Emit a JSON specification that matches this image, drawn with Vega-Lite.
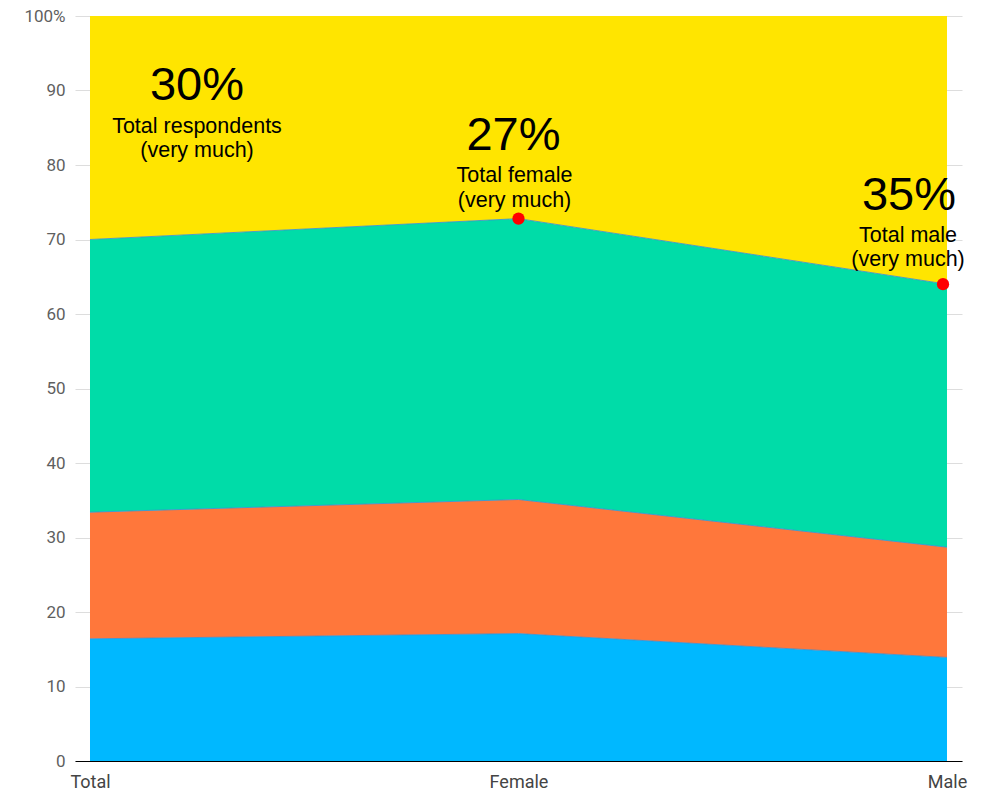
{
  "$schema": "https://vega.github.io/schema/vega-lite/v6.json",
  "width": 887,
  "height": 745,
  "autosize": {"type": "none"},
  "padding": {"left": 75, "top": 16, "right": 22, "bottom": 33},
  "background": "white",
  "config": {"view": {"stroke": null}},
  "data": {
    "values": [
      {"cat": "Total", "series": "Not at all", "rank": 1, "value": 16.4},
      {"cat": "Total", "series": "A little", "rank": 2, "value": 17.0},
      {"cat": "Total", "series": "Quite a lot", "rank": 3, "value": 36.6},
      {"cat": "Total", "series": "Very much", "rank": 4, "value": 30.0},
      {"cat": "Female", "series": "Not at all", "rank": 1, "value": 17.1},
      {"cat": "Female", "series": "A little", "rank": 2, "value": 18.0},
      {"cat": "Female", "series": "Quite a lot", "rank": 3, "value": 37.7},
      {"cat": "Female", "series": "Very much", "rank": 4, "value": 27.2},
      {"cat": "Male", "series": "Not at all", "rank": 1, "value": 13.9},
      {"cat": "Male", "series": "A little", "rank": 2, "value": 14.8},
      {"cat": "Male", "series": "Quite a lot", "rank": 3, "value": 35.3},
      {"cat": "Male", "series": "Very much", "rank": 4, "value": 36.0}
    ]
  },
  "encoding": {
    "x": {
      "field": "cat",
      "type": "ordinal",
      "sort": ["Total", "Female", "Male"],
      "scale": {"type": "point", "padding": 0.035},
      "axis": {
        "title": null,
        "labelAngle": 0,
        "ticks": false,
        "tickSize": 0,
        "grid": false,
        "domainColor": "#000000",
        "domainWidth": 1.2,
        "labelPadding": 12,
        "labelFont": "Roboto",
        "labelFontSize": 18,
        "labelColor": "#444444",
        "zindex": 1
      }
    }
  },
  "layer": [
    {
      "mark": {"type": "area", "opacity": 1},
      "encoding": {
        "y": {
          "field": "value",
          "type": "quantitative",
          "stack": "zero",
          "scale": {"domain": [0, 100], "nice": false},
          "axis": {
            "title": null,
            "values": [0, 10, 20, 30, 40, 50, 60, 70, 80, 90, 100],
            "labelExpr": "datum.value == 100 ? '100%' : datum.label",
            "domain": false,
            "ticks": false,
            "tickSize": 0,
            "labelPadding": 10,
            "labelFont": "Roboto",
            "labelFontSize": 17,
            "labelColor": "#5f5f5f",
            "gridColor": "#dddddd",
            "gridWidth": 1
          }
        },
        "color": {
          "field": "series",
          "type": "nominal",
          "scale": {
            "domain": ["Not at all", "A little", "Quite a lot", "Very much"],
            "range": ["#00B8FF", "#FF773B", "#00DCA8", "#FFE500"]
          },
          "legend": null
        },
        "order": {"field": "rank", "type": "quantitative"}
      }
    },
    {
      "transform": [
        {"window": [{"op": "sum", "field": "value", "as": "cum"}], "sort": [{"field": "rank"}], "groupby": ["cat"], "frame": [null, 0]},
        {"filter": "datum.rank <= 3"}
      ],
      "mark": {"type": "line", "color": "#3b8fcf", "strokeWidth": 1, "opacity": 0.85},
      "encoding": {
        "y": {"field": "cum", "type": "quantitative"},
        "detail": {"field": "series", "type": "nominal"}
      }
    },
    {
      "transform": [
        {"window": [{"op": "sum", "field": "value", "as": "cum"}], "sort": [{"field": "rank"}], "groupby": ["cat"], "frame": [null, 0]},
        {"filter": "datum.rank == 3 && datum.cat == 'Female'"}
      ],
      "mark": {"type": "point", "filled": true, "size": 150, "color": "#ff0000", "opacity": 1},
      "encoding": {
        "y": {"field": "cum", "type": "quantitative"}
      }
    },
    {
      "transform": [
        {"window": [{"op": "sum", "field": "value", "as": "cum"}], "sort": [{"field": "rank"}], "groupby": ["cat"], "frame": [null, 0]},
        {"filter": "datum.rank == 3 && datum.cat == 'Male'"}
      ],
      "mark": {"type": "point", "filled": true, "size": 150, "color": "#ff0000", "opacity": 1, "xOffset": -4},
      "encoding": {
        "y": {"field": "cum", "type": "quantitative"}
      }
    },
    {
      "data": {"values": [{"cat": "Total", "big": "30%", "sub": ["Total respondents", "(very much)"]}]},
      "layer": [
        {
          "mark": {"type": "text", "font": "Liberation Sans", "fontSize": 47, "color": "#000000", "align": "center", "baseline": "alphabetic", "dx": 107, "dy": 84},
          "encoding": {"y": {"datum": 100, "type": "quantitative"}, "text": {"field": "big"}}
        },
        {
          "mark": {"type": "text", "font": "Liberation Sans", "fontSize": 21.5, "color": "#000000", "align": "center", "baseline": "alphabetic", "lineHeight": 24, "dx": 107, "dy": 117},
          "encoding": {"y": {"datum": 100, "type": "quantitative"}, "text": {"field": "sub"}}
        }
      ]
    },
    {
      "data": {"values": [{"cat": "Female", "big": "27%", "sub": ["Total female", "(very much)"]}]},
      "layer": [
        {
          "mark": {"type": "text", "font": "Liberation Sans", "fontSize": 47, "color": "#000000", "align": "center", "baseline": "alphabetic", "dx": -5, "dy": 134},
          "encoding": {"y": {"datum": 100, "type": "quantitative"}, "text": {"field": "big"}}
        },
        {
          "mark": {"type": "text", "font": "Liberation Sans", "fontSize": 21.5, "color": "#000000", "align": "center", "baseline": "alphabetic", "lineHeight": 25, "dx": -4, "dy": 166},
          "encoding": {"y": {"datum": 100, "type": "quantitative"}, "text": {"field": "sub"}}
        }
      ]
    },
    {
      "data": {"values": [{"cat": "Male", "big": "35%", "sub": ["Total male", "(very much)"]}]},
      "layer": [
        {
          "mark": {"type": "text", "font": "Liberation Sans", "fontSize": 47, "color": "#000000", "align": "center", "baseline": "alphabetic", "dx": -38, "dy": 194},
          "encoding": {"y": {"datum": 100, "type": "quantitative"}, "text": {"field": "big"}}
        },
        {
          "mark": {"type": "text", "font": "Liberation Sans", "fontSize": 21.5, "color": "#000000", "align": "center", "baseline": "alphabetic", "lineHeight": 24, "dx": -39, "dy": 226},
          "encoding": {"y": {"datum": 100, "type": "quantitative"}, "text": {"field": "sub"}}
        }
      ]
    }
  ]
}
